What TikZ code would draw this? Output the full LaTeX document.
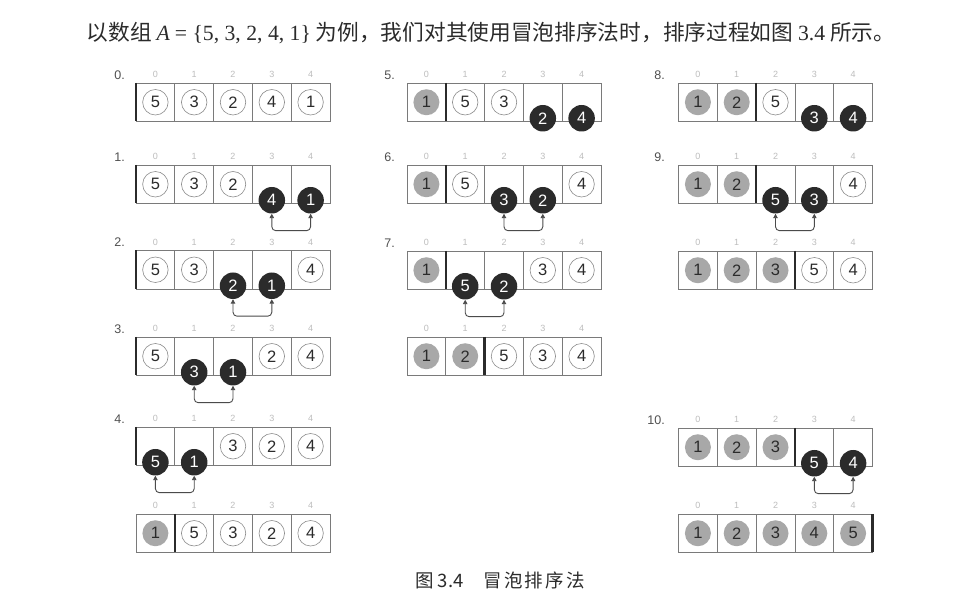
\documentclass[tikz,border=0pt]{standalone}
\usepackage{fontspec}
\setmainfont{Liberation Sans}
\newfontfamily\cjk{Noto Sans CJK SC}
\newfontfamily\cjkwide[LetterSpace=12]{Noto Sans CJK SC}
\newfontfamily\tms{Liberation Serif}
\usepackage{tikz}
\usetikzlibrary{arrows.meta}
\definecolor{ink}{HTML}{2B2B2B}
\definecolor{frame}{HTML}{7A7A7A}
\definecolor{ring}{HTML}{8C8C8C}
\definecolor{grey}{HTML}{A8A8A8}
\definecolor{faint}{HTML}{BDBDBD}
\definecolor{numc}{HTML}{505050}
\def\digits{\fontsize{16.5}{16.5}\selectfont}
\tikzset{
  cell/.style={draw=frame, line width=0.7pt, minimum width=38.8pt, minimum height=38.5pt, inner sep=0pt, outer sep=0pt},
  idx/.style={text=faint, font=\fontsize{9}{9}\selectfont, inner sep=0pt},
  num/.style={text=numc, font=\fontsize{12.5}{13}\selectfont, anchor=east, inner sep=0pt},
  open/.style={circle, draw=ring, line width=0.6pt, fill=white, minimum size=25.5pt, inner sep=0pt, text=ink, font=\digits},
  done/.style={circle, fill=grey, minimum size=26pt, inner sep=0pt, text=ink, font=\digits},
  hot/.style={circle, fill=ink, minimum size=26.5pt, inner sep=0pt, text=white, font=\digits, yshift=-16pt},
  bar/.style={draw=ink, line width=2.6pt},
  xchg/.style={draw=ink!85, line width=0.9pt, rounded corners=4pt, {Triangle[length=4.5pt,width=4.5pt]}-{Triangle[length=4.5pt,width=4.5pt]}},
  head/.style={text=ink, font=\fontsize{21.7}{22}\selectfont, inner sep=0pt},
  figcap/.style={text=ink, font=\fontsize{18.5}{19}\selectfont, inner sep=0pt},
}
% one array: name, left x, top y, bar slot, value/kind list
\newcommand\sortrow[5]{%
  \foreach \i in {0,...,4}{
    \node[cell] (#1b\i) at ({#2+(\i+0.5)*38.8}, {#3+19.25}) {};
    \node[idx] (#1i\i) at ({#2+(\i+0.5)*38.8}, {#3-8.5}) {\i};
  }
  \draw[bar] ({#2+#4*38.8}, #3) -- ++(0,38.5);
  \foreach \v/\k [count=\j from 0] in {#5}
    \node[\k] (#1c\j) at (#1b\j) {\v};
}

\begin{document}
\begin{tikzpicture}[x=1pt, y=-1pt]
  \fill[white] (0,0) rectangle (962,593);
  \useasboundingbox (0,0) rectangle (962,593);
  \node[head] (title) at (491,33) {\cjk 以数组 {\tms\itshape A} {\tms = \{5, 3, 2, 4, 1\}} 为例，我们对其使用冒泡排序法时，排序过程如图 {\tms 3.4} 所示。};
  % first column
  \sortrow{r0}{136}{83}{0}{5/open,3/open,2/open,4/open,1/open}
  \sortrow{r1}{136}{165}{0}{5/open,3/open,2/open,4/hot,1/hot}
  \sortrow{r2}{136}{250.5}{0}{5/open,3/open,2/hot,1/hot,4/open}
  \sortrow{r3}{136}{337}{0}{5/open,3/hot,1/hot,2/open,4/open}
  \sortrow{r4}{136}{427}{0}{5/hot,1/hot,3/open,2/open,4/open}
  \sortrow{r4x}{136}{514}{1}{1/done,5/open,3/open,2/open,4/open}
  % second column
  \sortrow{r5}{407}{83}{1}{1/done,5/open,3/open,2/hot,4/hot}
  \sortrow{r6}{407}{165}{1}{1/done,5/open,3/hot,2/hot,4/open}
  \sortrow{r7}{407}{251}{1}{1/done,5/hot,2/hot,3/open,4/open}
  \sortrow{r7x}{407}{337}{2}{1/done,2/done,5/open,3/open,4/open}
  % third column
  \sortrow{r8}{678.5}{83}{2}{1/done,2/done,5/open,3/hot,4/hot}
  \sortrow{r9}{678.5}{165}{2}{1/done,2/done,5/hot,3/hot,4/open}
  \sortrow{r9x}{678.5}{251}{3}{1/done,2/done,3/done,5/open,4/open}
  \sortrow{r10}{678.5}{428}{3}{1/done,2/done,3/done,5/hot,4/hot}
  \sortrow{r10x}{678.5}{514}{5}{1/done,2/done,3/done,4/done,5/done}
  % swaps
  \draw[xchg] (r1c3.south) -- ++(0,17) -| (r1c4.south);
  \draw[xchg] (r2c2.south) -- ++(0,17) -| (r2c3.south);
  \draw[xchg] (r3c1.south) -- ++(0,17) -| (r3c2.south);
  \draw[xchg] (r4c0.south) -- ++(0,17) -| (r4c1.south);
  \draw[xchg] (r6c2.south) -- ++(0,17) -| (r6c3.south);
  \draw[xchg] (r7c1.south) -- ++(0,17) -| (r7c2.south);
  \draw[xchg] (r9c2.south) -- ++(0,17) -| (r9c3.south);
  \draw[xchg] (r10c3.south) -- ++(0,17) -| (r10c4.south);
  % step numbers
  \node[num] (n0) at (125,75) {0.};
  \node[num] (n1) at (125,157) {1.};
  \node[num] (n2) at (125,242) {2.};
  \node[num] (n3) at (125,329) {3.};
  \node[num] (n4) at (125,419) {4.};
  \node[num] (n5) at (395,75) {5.};
  \node[num] (n6) at (395,157) {6.};
  \node[num] (n7) at (395,243) {7.};
  \node[num] (n8) at (665,75) {8.};
  \node[num] (n9) at (665,157) {9.};
  \node[num] (n10) at (665,420) {10.};
  \node[figcap] (caption) at (500,580) {\cjk 图 3.4\hspace{20pt}{\cjkwide 冒泡排序法}};
\end{tikzpicture}
\end{document}
